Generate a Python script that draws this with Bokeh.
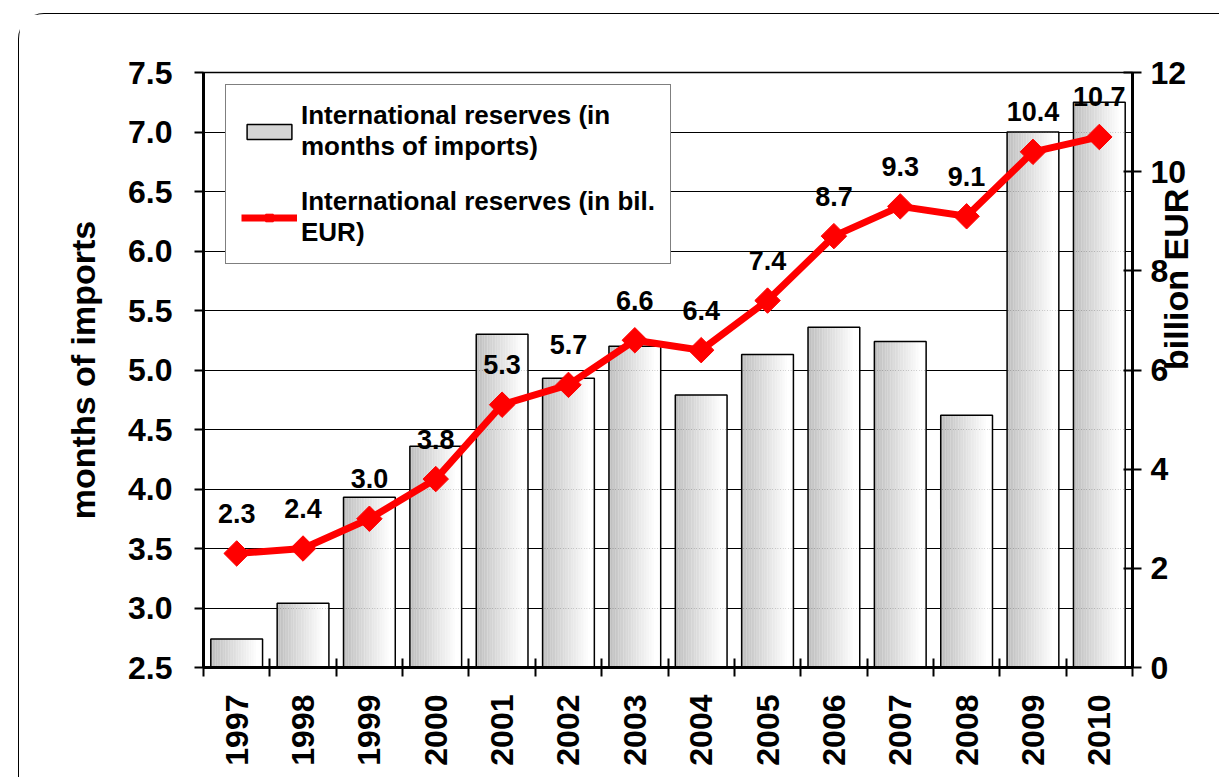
import math
from bokeh.plotting import figure
from bokeh.models import (Range1d, LinearAxis, FixedTicker, Legend, LegendItem,
                          PrintfTickFormatter)
from bokeh.core.properties import value
from bokeh.embed import file_html
from bokeh.resources import INLINE

# ---------------- data ----------------
years = ["1997", "1998", "1999", "2000", "2001", "2002", "2003",
         "2004", "2005", "2006", "2007", "2008", "2009", "2010"]
months_of_imports = [2.74, 3.04, 3.93, 4.36, 5.30, 4.93, 5.20,
                     4.79, 5.13, 5.36, 5.24, 4.62, 7.00, 7.25]
reserves_bn_eur = [2.3, 2.4, 3.0, 3.8, 5.3, 5.7, 6.6,
                   6.4, 7.4, 8.7, 9.3, 9.1, 10.4, 10.7]
left_ticks = [2.5, 3.0, 3.5, 4.0, 4.5, 5.0, 5.5, 6.0, 6.5, 7.0, 7.5]
right_ticks = [0, 2, 4, 6, 8, 10, 12]
bar_label = "International reserves (in\nmonths of imports)"
line_label = "International reserves (in bil.\nEUR)"
left_title = "months of imports"
right_title = "billion EUR"

FONT = "Liberation Sans"
idx = list(range(len(years)))

p = figure(width=1201, height=764,
           x_range=Range1d(-0.5, len(years) - 0.5),
           y_range=Range1d(left_ticks[0], left_ticks[-1]),
           output_backend="svg", toolbar_location=None,
           min_border_left=184, min_border_top=58,
           min_border_right=88, min_border_bottom=111)
p.margin = (13, 0, 0, 18)
p.styles = {"border-left": "1.5px solid black", "border-top": "1.5px solid black",
            "border-top-left-radius": "26px"}
p.background_fill_color = "white"
p.border_fill_color = "white"
p.outline_line_color = "black"
p.outline_line_width = 1.5
p.extra_y_ranges = {"bn": Range1d(right_ticks[0], right_ticks[-1])}

# grid
p.xgrid.visible = False
p.ygrid.ticker = FixedTicker(ticks=left_ticks)
p.ygrid.grid_line_color = "black"
p.ygrid.grid_line_width = 1.2

# left axis
ya = p.yaxis[0]
ya.ticker = FixedTicker(ticks=left_ticks)
ya.formatter = PrintfTickFormatter(format="%.1f")
ya.major_tick_in = 0
ya.major_tick_out = 9
ya.major_tick_line_width = 2
ya.minor_tick_line_color = None
ya.axis_line_width = 3
ya.major_label_text_font = FONT
ya.major_label_text_font_style = "bold"
ya.major_label_text_font_size = "32px"
ya.major_label_text_color = "black"
ya.major_label_standoff = 22
ya.axis_label = left_title
ya.axis_label_text_font = FONT
ya.axis_label_text_font_style = "bold"
ya.axis_label_text_font_size = "34px"
ya.axis_label_text_color = "black"
ya.axis_label_standoff = 23

# bottom axis: labels at category centres, tick marks at category boundaries
xa = p.xaxis[0]
xa.ticker = FixedTicker(ticks=idx, minor_ticks=[i - 0.5 for i in range(len(years) + 1)])
xa.major_label_overrides = {i: y for i, y in zip(idx, years)}
xa.major_label_orientation = math.pi / 2
xa.major_tick_line_color = None
xa.major_tick_in = 0
xa.major_tick_out = 0
xa.minor_tick_in = 9
xa.minor_tick_out = 9
xa.minor_tick_line_width = 2
xa.minor_tick_line_color = "black"
xa.axis_line_width = 3
xa.major_label_text_font = FONT
xa.major_label_text_font_style = "bold"
xa.major_label_text_font_size = "32px"
xa.major_label_text_color = "black"
xa.major_label_standoff = 18

# right axis
ra = LinearAxis(y_range_name="bn", ticker=FixedTicker(ticks=right_ticks))
ra.major_tick_in = 9
ra.major_tick_out = 9
ra.major_tick_line_width = 2
ra.minor_tick_line_color = None
ra.axis_line_width = 3
ra.major_label_text_font = FONT
ra.major_label_text_font_style = "bold"
ra.major_label_text_font_size = "32px"
ra.major_label_text_color = "black"
ra.major_label_standoff = 9
ra.axis_label = right_title
ra.axis_label_text_font = FONT
ra.axis_label_text_font_style = "bold"
ra.axis_label_text_font_size = "34px"
ra.axis_label_text_color = "black"
ra.axis_label_text_baseline = "top"
ra.axis_label_standoff = -13
ra.axis_label_orientation = math.pi / 2
p.add_layout(ra, "right")

# bars with horizontal grey->white gradient (drawn as thin strips)
bw = 0.78
N = 32
strip_renderers = []
for k in range(N):
    off = -bw / 2 + (k + 0.5) * bw / N
    t = k / (N - 1)
    g = int(round(0xBE + (0xFF - 0xBE) * min(1.0, t * 1.1)))
    col = "#%02x%02x%02x" % (g, g, g)
    r = p.vbar(x=[i + off for i in idx], top=months_of_imports, bottom=left_ticks[0],
               width=bw / N * 1.08, fill_color=col, line_color=None)
    strip_renderers.append(r)
outline = p.vbar(x=idx, top=months_of_imports, bottom=left_ticks[0], width=bw,
                 fill_color=None, line_color="black", line_width=1.5)

# line on the right axis
r_line = p.line(idx, reserves_bn_eur, y_range_name="bn", line_color="#ff0000", line_width=7)
r_mark = p.scatter(idx, reserves_bn_eur, y_range_name="bn", marker="square",
                   angle=math.pi / 4, size=18, fill_color="#ff0000", line_color="#ff0000")
p.text(x=idx, y=reserves_bn_eur, text=[f"{v:.1f}" for v in reserves_bn_eur],
       y_range_name="bn", text_font=value(FONT), text_font_style="bold",
       text_font_size="27px", text_align="center", text_baseline="alphabetic",
       y_offset=-40, text_color="black")

# legend
mid = strip_renderers[N // 3]
legend = Legend(items=[LegendItem(label=bar_label, renderers=[mid, outline]),
                       LegendItem(label=line_label, renderers=[r_line, r_mark])],
                location=(22, 403))
legend.border_line_color = "black"
legend.border_line_width = 1.5
legend.background_fill_color = "white"
legend.background_fill_alpha = 1
legend.label_text_font = FONT
legend.label_text_font_style = "bold"
legend.label_text_font_size = "26px"
legend.label_text_color = "black"
legend.glyph_width = 56
legend.glyph_height = 19
legend.label_standoff = 4
legend.padding = 15
legend.spacing = 24
legend.margin = 0
p.add_layout(legend)

open("out.html", "w").write(file_html(p, INLINE))
